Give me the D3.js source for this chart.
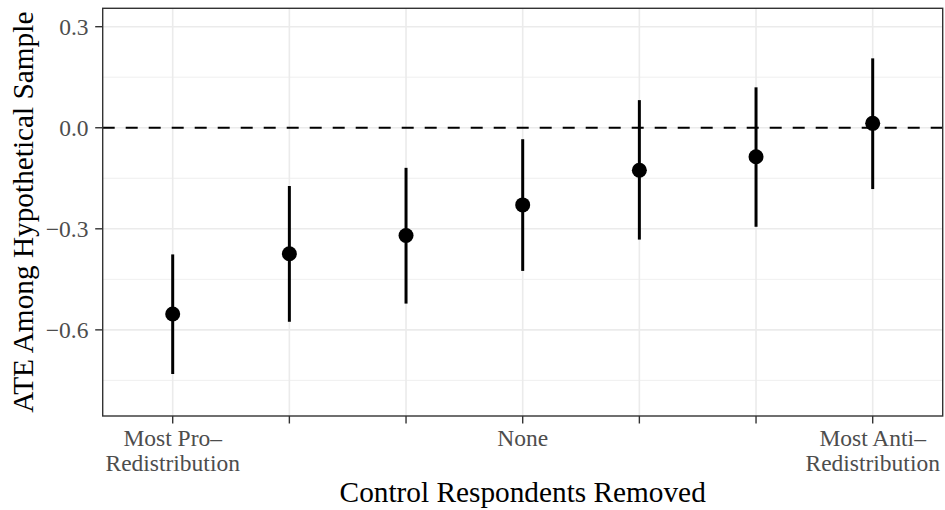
<!DOCTYPE html>
<html>
<head>
<meta charset="utf-8">
<script src="https://cdn.jsdelivr.net/npm/d3@7"></script>
<style>
  html, body { margin: 0; padding: 0; background: #fff; }
  svg { display: block; }
  text { font-family: "Liberation Serif", "Times New Roman", serif; }
</style>
</head>
<body>
<svg id="chart" width="945" height="510"></svg>
<script>
// ---- data ----
const categories = ["1", "2", "3", "4", "5", "6", "7"];
const tickLabels = [["Most Pro–", "Redistribution"], [], [], ["None"], [], [], ["Most Anti–", "Redistribution"]];
const estimates = [-0.553, -0.374, -0.320, -0.229, -0.126, -0.086, 0.013];
const lowerCI   = [-0.731, -0.576, -0.522, -0.425, -0.332, -0.294, -0.182];
const upperCI   = [-0.376, -0.173, -0.119, -0.034, 0.082, 0.120, 0.206];
const yTicks = [0.3, 0.0, -0.3, -0.6];
const yMinor = [0.15, -0.15, -0.45, -0.75];
const yTickLabels = ["0.3", "0.0", "\u22120.3", "\u22120.6"];
const xTitle = "Control Respondents Removed";
const yTitle = "ATE Among Hypothetical Sample";

// ---- layout ----
const panel = { left: 102.7, right: 942.7, top: 8.3, bottom: 416 };
const svg = d3.select("#chart");

const x = d3.scalePoint().domain(categories).range([panel.left, panel.right]).padding(0.6);
const y = d3.scaleLinear().domain([-0.8557, 0.3546]).range([panel.bottom, panel.top]);

const g = svg.append("g");

// grid
g.selectAll(".minor").data(yMinor).join("line")
  .attr("x1", panel.left).attr("x2", panel.right)
  .attr("y1", d => y(d)).attr("y2", d => y(d))
  .attr("stroke", "#ebebeb").attr("stroke-width", 0.8);
g.selectAll(".major").data(yTicks).join("line")
  .attr("x1", panel.left).attr("x2", panel.right)
  .attr("y1", d => y(d)).attr("y2", d => y(d))
  .attr("stroke", "#ebebeb").attr("stroke-width", 1.6);
g.selectAll(".vmajor").data(categories).join("line")
  .attr("x1", d => x(d)).attr("x2", d => x(d))
  .attr("y1", panel.top).attr("y2", panel.bottom)
  .attr("stroke", "#ebebeb").attr("stroke-width", 1.6);

// zero line
g.append("line")
  .attr("x1", panel.left).attr("x2", panel.right)
  .attr("y1", y(0)).attr("y2", y(0))
  .attr("stroke", "#000").attr("stroke-width", 2.2)
  .attr("stroke-dasharray", "12 11");

// error bars
const rows = categories.map((c, i) => ({ c, est: estimates[i], lo: lowerCI[i], hi: upperCI[i] }));
g.selectAll(".err").data(rows).join("line")
  .attr("x1", d => x(d.c)).attr("x2", d => x(d.c))
  .attr("y1", d => y(d.lo)).attr("y2", d => y(d.hi))
  .attr("stroke", "#000").attr("stroke-width", 3);
g.selectAll(".pt").data(rows).join("circle")
  .attr("cx", d => x(d.c)).attr("cy", d => y(d.est))
  .attr("r", 7.5).attr("fill", "#000");

// panel border
g.append("rect")
  .attr("x", panel.left).attr("y", panel.top)
  .attr("width", panel.right - panel.left).attr("height", panel.bottom - panel.top)
  .attr("fill", "none").attr("stroke", "#333").attr("stroke-width", 1.4);

// y axis ticks
g.selectAll(".yt").data(yTicks).join("line")
  .attr("x1", panel.left - 7.5).attr("x2", panel.left)
  .attr("y1", d => y(d)).attr("y2", d => y(d))
  .attr("stroke", "#333").attr("stroke-width", 1.4);
g.selectAll(".ytl").data(yTicks).join("text")
  .attr("x", 88.5).attr("y", d => y(d) + 8)
  .attr("text-anchor", "end").attr("font-size", 23.5).attr("fill", "#4d4d4d")
  .text((d, i) => yTickLabels[i]);

// x axis ticks
g.selectAll(".xt").data(categories).join("line")
  .attr("x1", d => x(d)).attr("x2", d => x(d))
  .attr("y1", panel.bottom).attr("y2", panel.bottom + 7.5)
  .attr("stroke", "#333").attr("stroke-width", 1.4);
const xl = g.selectAll(".xtl").data(categories).join("text")
  .attr("text-anchor", "middle").attr("font-size", 23.5).attr("fill", "#4d4d4d");
xl.each(function(d, i) {
  const t = d3.select(this);
  tickLabels[i].forEach((line, j) => {
    t.append("tspan").attr("x", x(d)).attr("y", 446 + j * 24.5).text(line);
  });
});

// titles
svg.append("text")
  .attr("x", (panel.left + panel.right) / 2).attr("y", 501.5)
  .attr("text-anchor", "middle").attr("font-size", 29.3).attr("fill", "#000")
  .text(xTitle);
svg.append("text")
  .attr("transform", `translate(33,${(panel.top + panel.bottom) / 2}) rotate(-90)`)
  .attr("text-anchor", "middle").attr("font-size", 29.3).attr("fill", "#000")
  .text(yTitle);
</script>
</body>
</html>
